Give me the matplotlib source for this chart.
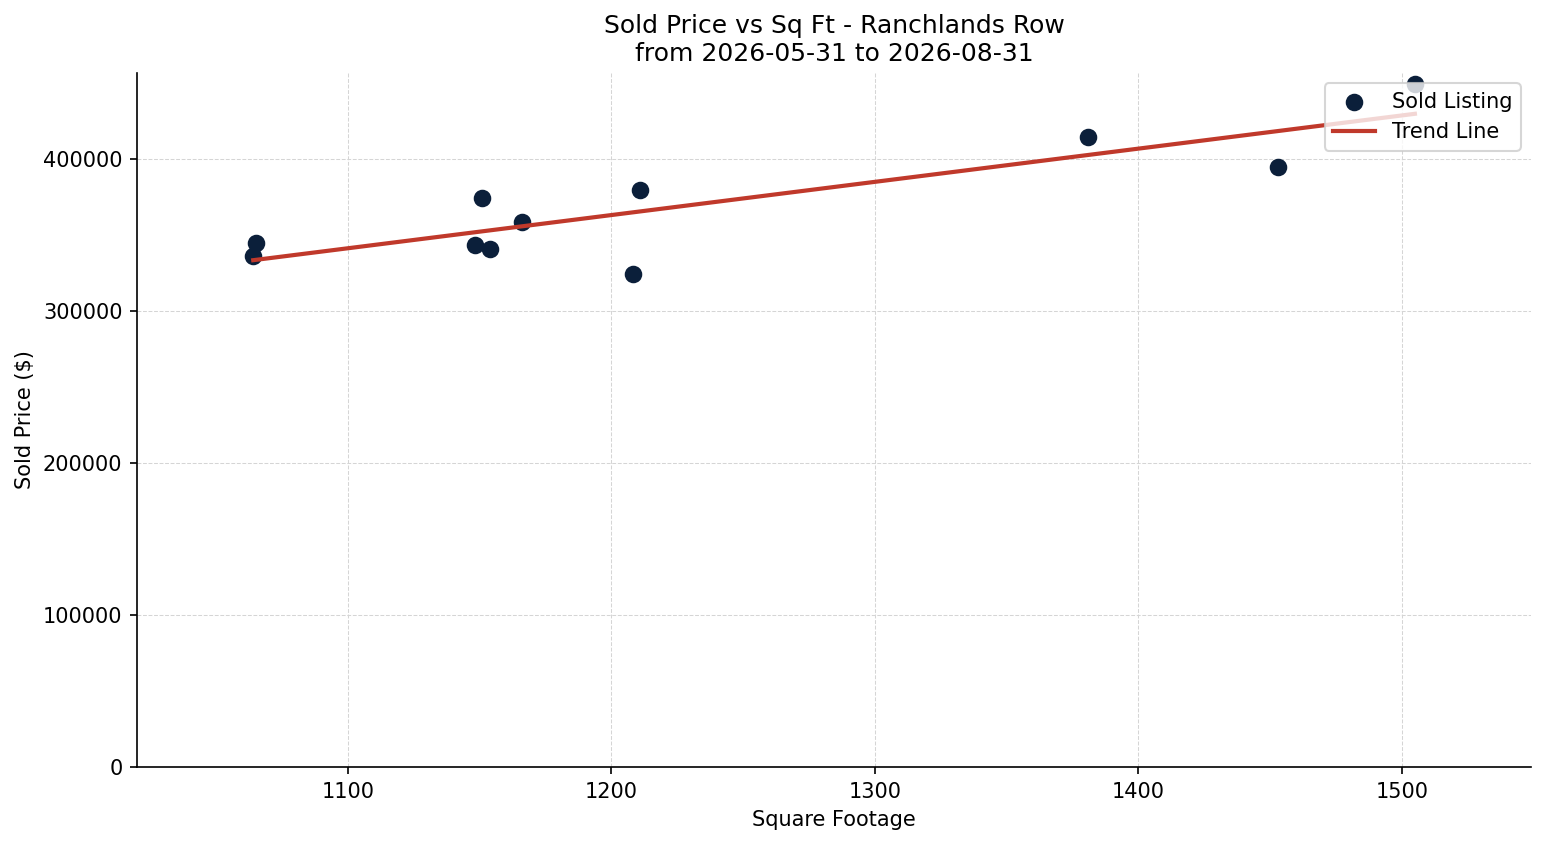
import numpy as np
import matplotlib
matplotlib.use("Agg")
import matplotlib.pyplot as plt

# sold listings
sqft = [1064, 1065, 1148, 1151, 1154, 1166, 1208, 1211, 1381, 1453, 1505]
price = [336000, 345000, 343500, 374500, 341000, 358500, 324500, 379500, 414500, 395000, 449500]

title = "Sold Price vs Sq Ft - Ranchlands Row\nfrom 2026-05-31 to 2026-08-31"

x = np.array(sqft, dtype=float)
y = np.array(price, dtype=float)

# least squares trend line
slope, intercept = np.polyfit(x, y, 1)
xs = np.array([x.min(), x.max()])

fig, ax = plt.subplots(figsize=(1547 / 150, 845 / 150), dpi=150)
ax.scatter(x, y, s=55, color="#0b1f3a", label="Sold Listing", zorder=2)
ax.plot(xs, slope * xs + intercept, color="#c0392b", linewidth=2, label="Trend Line", zorder=3)

pad = (x.max() - x.min()) * 0.1
ax.set_xlim(x.min() - pad, x.max() + pad)
ax.set_ylim(0, 456600)

ax.set_title(title, fontsize=12)
ax.set_xlabel("Square Footage")
ax.set_ylabel("Sold Price ($)")
ax.grid(True, linestyle="--", linewidth=0.5, color="#d5d5d5")
ax.set_axisbelow(True)
ax.spines["top"].set_visible(False)
ax.spines["right"].set_visible(False)
ax.legend(loc="upper right")

plt.subplots_adjust(left=0.0886, right=0.9897, top=0.9136, bottom=0.0923)
plt.savefig("out.png")
